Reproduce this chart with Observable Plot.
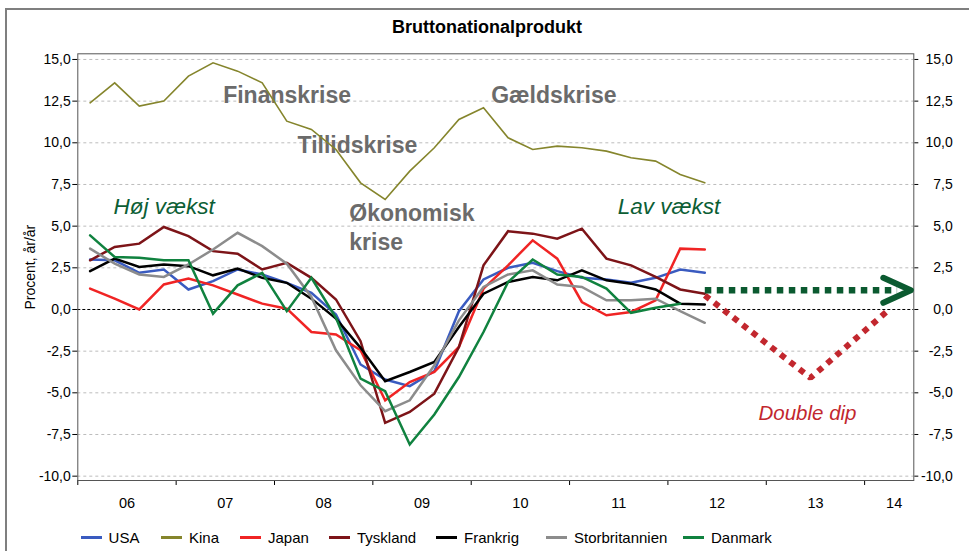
<!DOCTYPE html>
<html><head><meta charset="utf-8">
<script src="https://cdn.jsdelivr.net/npm/d3@7"></script>
<script src="https://cdn.jsdelivr.net/npm/@observablehq/plot@0.6"></script>
<style>
body{margin:0;background:#fff;font-family:"Liberation Sans",Arial,sans-serif;}
#wrap{position:relative;width:969px;height:551px;overflow:hidden;background:#fff;}
#border{position:absolute;left:5px;top:8px;width:1000px;height:600px;border:2px solid #7f7f7f;box-sizing:border-box;}
#title{position:absolute;left:0;top:16px;width:974px;text-align:center;font-weight:bold;font-size:18px;line-height:22px;}
#chart{position:absolute;left:0;top:40px;}
#legend{position:absolute;left:0;top:527px;width:969px;height:20px;font-size:15px;}
.item{position:absolute;top:0;height:20px;display:flex;align-items:center;white-space:nowrap;}
.sw{width:21px;height:3px;margin-right:7px;}
</style></head><body>
<div id="wrap"><div id="border"></div><div id="title">Bruttonationalprodukt</div><div id="chart"></div><div id="legend"></div></div>
<script>
// ---- data ----
const quarters = ["2006Q1","2006Q2","2006Q3","2006Q4","2007Q1","2007Q2","2007Q3","2007Q4",
  "2008Q1","2008Q2","2008Q3","2008Q4","2009Q1","2009Q2","2009Q3","2009Q4",
  "2010Q1","2010Q2","2010Q3","2010Q4","2011Q1","2011Q2","2011Q3","2011Q4","2012Q1","2012Q2"];
const usa = [3.0, 2.95, 2.2, 2.4, 1.2, 1.7, 2.4, 2.1, 1.6, 1.0, -0.3, -3.3, -4.2, -4.6, -3.7, -0.1, 1.8, 2.5, 2.8, 2.3, 1.9, 1.8, 1.6, 1.9, 2.4, 2.2];
const kina = [12.4, 13.6, 12.2, 12.5, 14.0, 14.8, 14.3, 13.6, 11.3, 10.8, 9.6, 7.6, 6.6, 8.3, 9.7, 11.4, 12.1, 10.3, 9.6, 9.8, 9.7, 9.5, 9.1, 8.9, 8.1, 7.6];
const japan = [1.25, 0.65, 0.0, 1.5, 1.85, 1.45, 0.9, 0.35, 0.05, -1.35, -1.5, -2.45, -5.45, -4.35, -3.75, -2.25, 1.25, 2.65, 4.15, 3.05, 0.45, -0.35, -0.15, 0.55, 3.65, 3.6];
const tyskland = [2.95, 3.75, 3.95, 4.95, 4.4, 3.5, 3.35, 2.4, 2.8, 1.9, 0.6, -1.9, -6.8, -6.15, -5.05, -2.25, 2.65, 4.7, 4.55, 4.25, 4.85, 3.05, 2.65, 1.95, 1.2, 0.95];
const frankrig = [2.3, 3.05, 2.55, 2.7, 2.6, 2.05, 2.45, 1.9, 1.6, 0.65, -0.55, -2.3, -4.3, -3.75, -3.15, -1.05, 0.95, 1.65, 1.95, 1.75, 2.35, 1.75, 1.55, 1.2, 0.35, 0.3];
const storbritannien = [3.65, 2.75, 2.1, 1.95, 2.7, 3.6, 4.6, 3.8, 2.75, 0.75, -2.45, -4.55, -6.1, -5.45, -3.35, -0.65, 1.35, 2.1, 2.35, 1.5, 1.35, 0.55, 0.55, 0.65, -0.1, -0.8];
const danmark = [4.45, 3.15, 3.1, 2.95, 2.95, -0.25, 1.45, 2.2, -0.1, 1.9, -0.5, -4.15, -4.9, -8.1, -6.3, -4.05, -1.35, 1.65, 3.0, 2.1, 1.95, 1.25, -0.2, 0.1, 0.35];
const seriesNames = ["USA","Kina","Japan","Tyskland","Frankrig","Storbritannien","Danmark"];
const seriesValues = [usa, kina, japan, tyskland, frankrig, storbritannien, danmark];
const yTicks = [-10, -7.5, -5, -2.5, 0, 2.5, 5, 7.5, 10, 12.5, 15];
const years = [2006, 2007, 2008, 2009, 2010, 2011, 2012, 2013, 2014];
const yearLabels = ["06","07","08","09","10","11","12","13","14"];
// scenario paths (quarter/year position, value)
const scenarioLav = [{t: 2012.375, v: 1.15}, {t: 2014.33, v: 1.15}];
const arrowHead = [{t: 2014.19, v: 1.9}, {t: 2014.47, v: 1.15}, {t: 2014.19, v: 0.4}];
const scenarioDip = [{t: 2012.375, v: 0.85}, {t: 2013.45, v: -4.1}, {t: 2014.26, v: 0.05}];
const annotations = [
  {text: "Finanskrise", t: 2007.478, v: 12.84, kind: "crisis"},
  {text: "Tillidskrise", t: 2008.234, v: 9.84, kind: "crisis"},
  {text: "Økonomisk", t: 2008.76, v: 5.76, kind: "crisis"},
  {text: "krise", t: 2008.76, v: 4.04, kind: "crisis"},
  {text: "Gældskrise", t: 2010.203, v: 12.84, kind: "crisis"},
  {text: "Høj vækst", t: 2006.363, v: 6.18, kind: "growth"},
  {text: "Lav vækst", t: 2011.49, v: 6.14, kind: "growth"},
  {text: "Double dip", t: 2012.921, v: -6.22, kind: "dip"}
];

// ---- styles ----
const colors = {USA:"#3a5bc0", Kina:"#85852c", Japan:"#f02424", Tyskland:"#7d1418", Frankrig:"#000000", Storbritannien:"#8c8c8c", Danmark:"#10823f"};
const widths = {USA:2.5, Kina:1.6, Japan:2.5, Tyskland:2.5, Frankrig:2.5, Storbritannien:2.5, Danmark:2.5};
const legendLeft = [80.6, 161, 240, 329, 436, 546, 683];
const font = '"Liberation Sans", Arial, sans-serif';

const qpos = q => +q.slice(0,4) + (+q.slice(5) - 0.5) / 4;
const fmt = v => v.toFixed(1).replace(".", ",");

const lineMarks = seriesNames.map((name, k) =>
  Plot.line(seriesValues[k].map((v, i) => ({t: qpos(quarters[i]), v})),
    {x: "t", y: "v", stroke: colors[name], strokeWidth: widths[name], strokeLinejoin: "miter", strokeMiterlimit: 3}));

const annStyle = {
  crisis: {fill: "#6b6b6b", fontWeight: "bold", fontStyle: "normal", fontSize: 23},
  growth: {fill: "#0c5e35", fontWeight: "normal", fontStyle: "italic", fontSize: 22.5},
  dip: {fill: "#c2272e", fontWeight: "normal", fontStyle: "italic", fontSize: 20.5}
};

const annMarks = Object.keys(annStyle).map(kind =>
  Plot.text(annotations.filter(a => a.kind === kind), {x: "t", y: "v", text: "text", textAnchor: "start", lineAnchor: "middle", ...annStyle[kind]}));

const chart = Plot.plot({
  width: 969, height: 480,
  marginLeft: 77.3, marginRight: 55.7, marginTop: 13.3, marginBottom: 40,
  x: {domain: [2006, 2014.5]},
  y: {domain: [-10.26, 15.34]},
  style: {fontFamily: font, fontSize: "14px", color: "black", background: "transparent", overflow: "visible"},
  marks: [
    Plot.ruleY(yTicks.filter(d => d !== 0), {y: d => d, stroke: "#bdbdbd", strokeDasharray: "3,3"}),
    Plot.ruleY([0], {stroke: "black", strokeDasharray: "3,2"}),
    Plot.axisY({anchor: "left", ticks: yTicks, tickFormat: fmt, tickSize: 5, tickPadding: 2, fontSize: 14,
      label: "Procent, år/år", labelAnchor: "center", labelOffset: 53, labelArrow: "none"}),
    Plot.axisY({anchor: "right", ticks: yTicks, tickFormat: fmt, tickSize: 4, tickPadding: 35, textAnchor: "end", fontSize: 14, label: null}),
    Plot.axisX({ticks: years, tickFormat: () => "", tickSize: 5, label: null}),
    Plot.axisX({ticks: years.map(y => y === 2014 ? 2014.3 : y + 0.5), tickFormat: (d, i) => yearLabels[i], tickSize: 0, tickPadding: 17, fontSize: 14.5, label: null}),
    Plot.frame({stroke: "#555"}),
    ...annMarks,
    ...lineMarks,
    Plot.line(scenarioDip, {x: "t", y: "v", stroke: "#c2272e", strokeWidth: 6, strokeDasharray: "6,6", strokeLinecap: "butt", strokeLinejoin: "miter"}),
    Plot.line(scenarioLav, {x: "t", y: "v", stroke: "#0b5a30", strokeWidth: 6.5, strokeDasharray: "6.5,5.5", strokeLinecap: "butt"}),
    Plot.line(arrowHead, {x: "t", y: "v", stroke: "#0b5a30", strokeWidth: 6, strokeLinejoin: "round", strokeLinecap: "round"})
  ]
});
document.getElementById("chart").appendChild(chart);

const legend = document.getElementById("legend");
seriesNames.forEach((name, k) => {
  const it = document.createElement("div");
  it.className = "item";
  it.style.left = legendLeft[k] + "px";
  it.innerHTML = `<span class="sw" style="background:${colors[name]}"></span><span>${name}</span>`;
  legend.appendChild(it);
});
</script>
</body></html>
